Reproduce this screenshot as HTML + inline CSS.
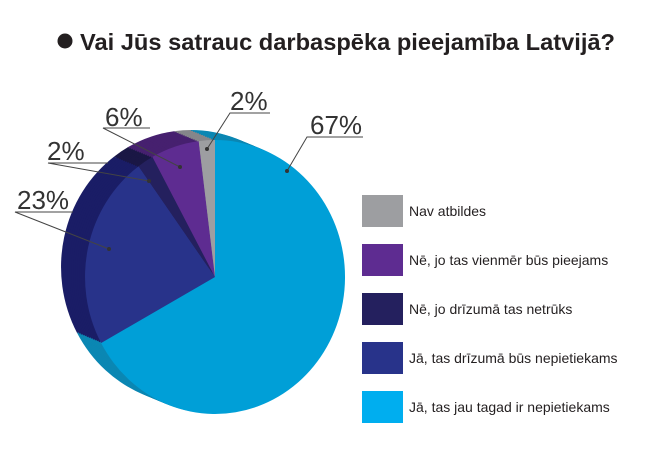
<!DOCTYPE html>
<html><head><meta charset="utf-8"><style>
body{margin:0;background:#fff;}
svg{display:block;}
text{font-family:"Liberation Sans",sans-serif;}
</style></head><body>
<svg width="650" height="459" viewBox="0 0 650 459" xmlns="http://www.w3.org/2000/svg">
<circle cx="65" cy="41" r="7.5" fill="#231f20"/>
<text x="80" y="50" font-size="23" font-weight="bold" fill="#231f20" textLength="535" lengthAdjust="spacingAndGlyphs">Vai Jūs satrauc darbaspēka pieejamība Latvijā?</text>
<defs>
<g id="side">
<path d="M215,277 L215,140 A130,137 0 1 1 101.1,343 Z" fill="#0b87b3"/>
<path d="M215,277 L101.1,343 A130,137 0 0 1 138.6,166.2 Z" fill="#1a1d66"/>
<path d="M215,277 L138.6,166.2 A130,137 0 0 1 152.4,156.9 Z" fill="#1a1745"/>
<path d="M215,277 L152.4,156.9 A130,137 0 0 1 198.7,141.1 Z" fill="#46206f"/>
<path d="M215,277 L198.7,141.1 A130,137 0 0 1 215,140 Z" fill="#85868a"/>
</g>
</defs>
<use href="#side" transform="translate(-24,-10)"/>
<use href="#side" transform="translate(-22,-9.2)"/>
<use href="#side" transform="translate(-20,-8.3)"/>
<use href="#side" transform="translate(-18,-7.5)"/>
<use href="#side" transform="translate(-16,-6.7)"/>
<use href="#side" transform="translate(-14,-5.8)"/>
<use href="#side" transform="translate(-12,-5)"/>
<use href="#side" transform="translate(-10,-4.2)"/>
<use href="#side" transform="translate(-8,-3.3)"/>
<use href="#side" transform="translate(-6,-2.5)"/>
<use href="#side" transform="translate(-4,-1.7)"/>
<use href="#side" transform="translate(-2,-0.8)"/>
<path d="M215,277 L215,140 A130,137 0 1 1 101.1,343 Z" fill="#009fd7"/>
<path d="M215,277 L101.1,343 A130,137 0 0 1 138.6,166.2 Z" fill="#28338a"/>
<path d="M215,277 L138.6,166.2 A130,137 0 0 1 152.4,156.9 Z" fill="#24205e"/>
<path d="M215,277 L152.4,156.9 A130,137 0 0 1 198.7,141.1 Z" fill="#5e2c91"/>
<path d="M215,277 L198.7,141.1 A130,137 0 0 1 215,140 Z" fill="#9d9ea1"/>
<g stroke="#444" stroke-width="1" fill="none">
<polyline points="363,137 307,137 287,171"/>
<polyline points="270,113 230,113 207,149"/>
<polyline points="150,128 103,128 180,167"/>
<polyline points="108,163 48,163 149,181"/>
<polyline points="73,212 15,212 109,249"/>
</g>
<g fill="#333">
<circle cx="287" cy="171" r="2"/><circle cx="207" cy="149" r="2"/><circle cx="180" cy="167" r="2"/><circle cx="149" cy="181" r="2"/><circle cx="109" cy="249" r="2"/>
</g>
<g font-size="26" fill="#333">
<text x="310" y="134">67%</text>
<text x="230" y="110">2%</text>
<text x="105" y="126">6%</text>
<text x="47" y="160">2%</text>
<text x="17" y="209">23%</text>
</g>
<rect x="362" y="195" width="41" height="32" fill="#9d9ea1"/>
<rect x="362" y="244" width="41" height="32" fill="#5e2c91"/>
<rect x="362" y="293" width="41" height="32" fill="#24205e"/>
<rect x="362" y="342" width="41" height="32" fill="#28338a"/>
<rect x="362" y="391" width="41" height="32" fill="#00aeef"/>
<g font-size="14" fill="#231f20">
<text x="409" y="216">Nav atbildes</text>
<text x="409" y="265">Nē, jo tas vienmēr būs pieejams</text>
<text x="409" y="314">Nē, jo drīzumā tas netrūks</text>
<text x="409" y="363">Jā, tas drīzumā būs nepietiekams</text>
<text x="409" y="412">Jā, tas jau tagad ir nepietiekams</text>
</g>
</svg>
</body></html>
